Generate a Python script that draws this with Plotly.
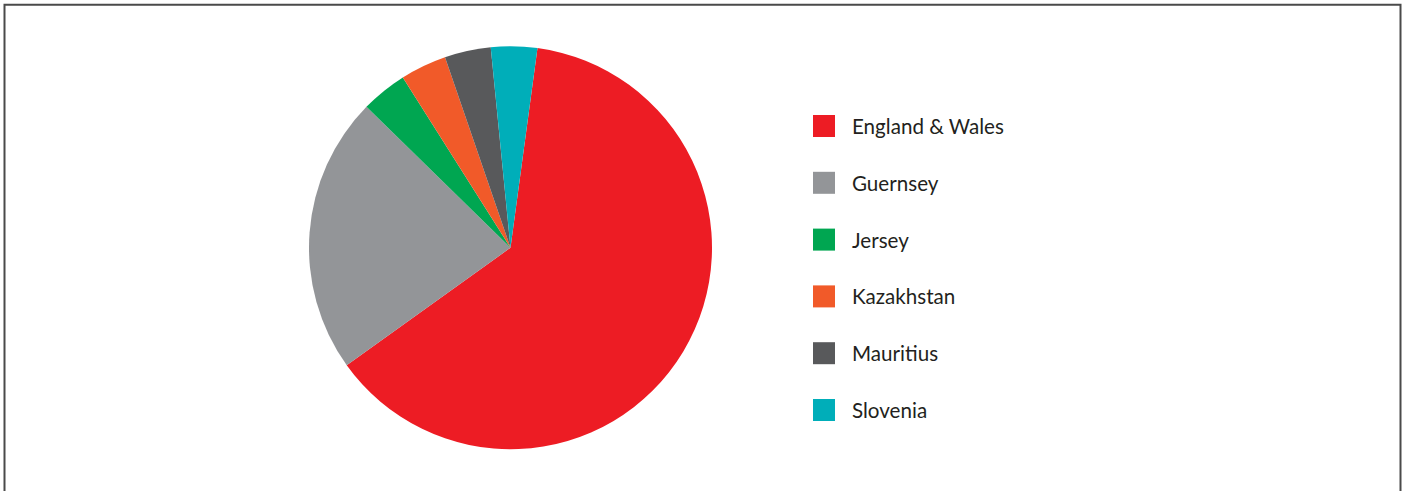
import plotly.graph_objects as go

# ---- data ----
categories = ["England & Wales", "Guernsey", "Jersey", "Kazakhstan", "Mauritius", "Slovenia"]
values = [17, 6, 1, 1, 1, 1]
colors = ["#ED1C24", "#939598", "#00A651", "#F15A29", "#58595B", "#00AEB9"]

W, H = 1405, 491


def px(x):
    return x / W


def py(y):
    return 1 - y / H


fig = go.Figure()
fig.add_trace(go.Pie(
    labels=categories,
    values=values,
    marker=dict(colors=colors, line=dict(width=0)),
    sort=False,
    direction="clockwise",
    rotation=7.7,
    textinfo="none",
    hoverinfo="label+value+percent",
    showlegend=False,
    domain=dict(x=[px(309), px(712)], y=[py(449.5), py(46)]),
))

shapes = [
    dict(type="rect", xref="paper", yref="paper",
         x0=px(4.5), x1=px(1400.5), y0=py(4.8), y1=py(520),
         line=dict(color="#4a4a4a", width=2), fillcolor="rgba(0,0,0,0)", layer="above"),
]
annotations = []
row0, step = 126, 56.8
for i, (name, col) in enumerate(zip(categories, colors)):
    cy = row0 + i * step
    shapes.append(dict(type="rect", xref="paper", yref="paper",
                       x0=px(813), x1=px(835), y0=py(cy + 11), y1=py(cy - 11),
                       fillcolor=col, line=dict(width=0)))
    annotations.append(dict(xref="paper", yref="paper", x=px(850), y=py(cy),
                            xanchor="left", yanchor="middle", showarrow=False,
                            text=name, font=dict(family="Lato", size=20.6, color="#231F20")))

fig.update_layout(
    width=W, height=H,
    margin=dict(l=0, r=0, t=0, b=0),
    paper_bgcolor="white", plot_bgcolor="white",
    shapes=shapes, annotations=annotations,
    showlegend=False,
)

fig.write_html(
    "out.html",
    config={"displayModeBar": False},
    post_script="document.body.style.margin='0';document.body.style.overflow='hidden';",
)
